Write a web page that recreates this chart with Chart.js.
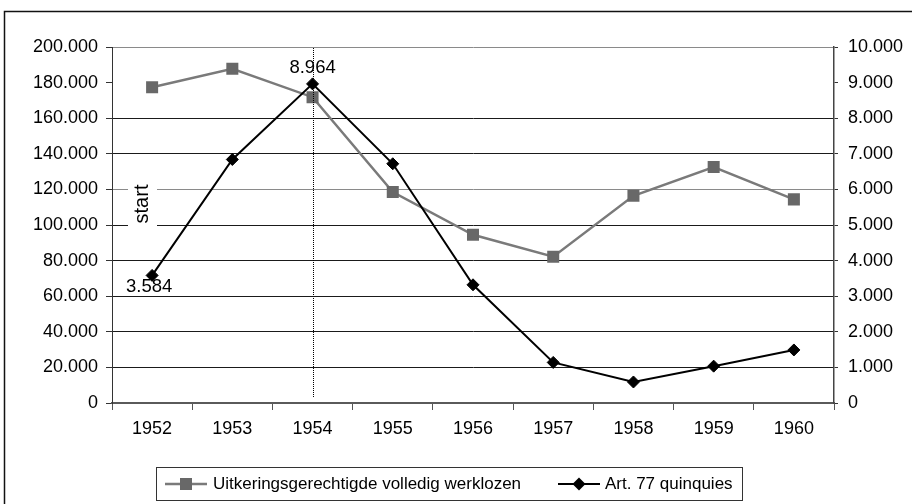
<!DOCTYPE html>
<html><head><meta charset="utf-8">
<script src="https://cdn.jsdelivr.net/npm/chart.js@4/dist/chart.umd.min.js"></script>
<style>html,body{margin:0;padding:0;background:#fff;overflow:hidden}</style>
</head><body>
<canvas id="c" width="912" height="504" style="width:912px;height:504px;display:block"></canvas>
<script>
// ---- data ----
const years = ['1952','1953','1954','1955','1956','1957','1958','1959','1960'];
const werklozen = [177400, 187800, 171800, 118500, 94500, 82200, 116400, 132600, 114400];
const quinquies = [3584, 6840, 8964, 6720, 3320, 1140, 590, 1035, 1490];
const seriesNames = ['Uitkeringsgerechtigde volledig werklozen', 'Art. 77 quinquies'];
const leftAxisMax = 200000, leftAxisStep = 20000;
const rightAxisMax = 10000, rightAxisStep = 1000;
const labeledPoints = [0, 2];      // indices of quinquies points with value labels
const markerYear = '1954';          // dotted vertical line
const noteText = 'start';

const FONT = "'Liberation Sans', Arial, sans-serif";
const fmt = v => Math.round(v).toString().replace(/\B(?=(\d{3})+(?!\d))/g, '.');

const GREY_LINE = '#7a7a7a', GREY_PT = '#686868', BLACK = '#000000';

const deco = {
  id: 'deco',
  beforeDraw(chart) {
    const ctx = chart.ctx;
    ctx.save();
    ctx.fillStyle = '#fff';
    ctx.fillRect(0, 0, chart.width, chart.height);
    ctx.strokeStyle = '#111';
    ctx.lineWidth = 1.5;
    ctx.strokeRect(4.5, 11.5, 940, 540);
    ctx.restore();
  },
  beforeDatasetsDraw(chart) {
    const ctx = chart.ctx;
    ctx.save();
    ctx.fillStyle = '#fff';
    ctx.fillRect(128, 176, 29, 58);
    ctx.translate(142, 204);
    ctx.rotate(-Math.PI / 2);
    ctx.fillStyle = '#000';
    ctx.font = '20px ' + FONT;
    ctx.textAlign = 'center';
    ctx.textBaseline = 'middle';
    ctx.fillText(noteText, 0, 0);
    ctx.restore();
  },
  afterDatasetsDraw(chart) {
    const ctx = chart.ctx;
    const xs = chart.scales.x;
    const area = chart.chartArea;
    const xm = Math.round(xs.getPixelForValue(years.indexOf(markerYear))) + 0.5;
    ctx.save();
    ctx.strokeStyle = '#000';
    ctx.lineWidth = 1;
    ctx.setLineDash([1, 1]);
    ctx.beginPath();
    ctx.moveTo(xm, area.top + 1);
    ctx.lineTo(xm, area.bottom - 5);
    ctx.stroke();
    ctx.setLineDash([]);
    const meta = chart.getDatasetMeta(1);
    ctx.fillStyle = '#000';
    ctx.font = '18.5px ' + FONT;
    ctx.textAlign = 'center';
    ctx.textBaseline = 'middle';
    labeledPoints.forEach(i => {
      const p = meta.data[i];
      if (i === 0) ctx.fillText(fmt(quinquies[i]), p.x - 3, p.y + 11);
      else ctx.fillText(fmt(quinquies[i]), p.x, p.y - 16);
    });
    ctx.restore();
  },
  afterDraw(chart) {
    const ctx = chart.ctx;
    ctx.save();
    ctx.strokeStyle = '#333';
    ctx.lineWidth = 1;
    ctx.strokeRect(156.5, 467.5, 586, 33);
    const ly = 484;
    ctx.font = '17px ' + FONT;
    ctx.textBaseline = 'middle';
    ctx.textAlign = 'left';
    const d0 = chart.data.datasets[0], d1 = chart.data.datasets[1];
    ctx.strokeStyle = d0.borderColor; ctx.lineWidth = d0.borderWidth;
    ctx.beginPath(); ctx.moveTo(165, ly); ctx.lineTo(207, ly); ctx.stroke();
    ctx.fillStyle = d0.pointBackgroundColor;
    ctx.fillRect(180, ly - 6, 12, 12);
    ctx.fillStyle = '#000';
    ctx.fillText(d0.label, 213, ly);
    ctx.strokeStyle = d1.borderColor; ctx.lineWidth = d1.borderWidth;
    ctx.beginPath(); ctx.moveTo(558, ly); ctx.lineTo(600, ly); ctx.stroke();
    ctx.fillStyle = d1.pointBackgroundColor;
    ctx.beginPath();
    ctx.moveTo(579, ly - 6.5); ctx.lineTo(585.5, ly); ctx.lineTo(579, ly + 6.5); ctx.lineTo(572.5, ly);
    ctx.closePath(); ctx.fill();
    ctx.fillStyle = '#000';
    ctx.fillText(d1.label, 605, ly);
    ctx.restore();
  }
};

new Chart(document.getElementById('c'), {
  type: 'line',
  data: {
    labels: years,
    datasets: [
      {
        label: seriesNames[0], data: werklozen, yAxisID: 'y', order: 2,
        borderColor: GREY_LINE, borderWidth: 2.5,
        pointStyle: 'rect', pointRadius: 8.5, pointBackgroundColor: GREY_PT,
        pointBorderColor: GREY_PT, pointBorderWidth: 0, tension: 0
      },
      {
        label: seriesNames[1], data: quinquies, yAxisID: 'y1', order: 1,
        borderColor: BLACK, borderWidth: 2,
        pointStyle: 'rectRot', pointRadius: 6, pointBackgroundColor: BLACK,
        pointBorderColor: BLACK, pointBorderWidth: 1, tension: 0
      }
    ]
  },
  options: {
    responsive: false,
    animation: false,
    devicePixelRatio: 1,
    layout: { padding: { top: 47, left: 0, right: 0, bottom: 0 } },
    plugins: { legend: { display: false }, tooltip: { enabled: false } },
    scales: {
      x: {
        offset: true,
        grid: { offset: true, drawOnChartArea: false, drawTicks: true, tickLength: 7, color: '#555', lineWidth: 1 },
        border: { display: true, color: '#5a5a5a', width: 2 },
        ticks: { color: '#000', font: { family: FONT, size: 18 }, padding: 8, maxRotation: 0 },
        afterFit: s => { s.height = 101; }
      },
      y: {
        position: 'left', min: 0, max: leftAxisMax,
        ticks: { stepSize: leftAxisStep, color: '#000', font: { family: FONT, size: 18 }, padding: 8, callback: v => fmt(v) },
        grid: {
          drawTicks: true, tickLength: 6, tickColor: '#333', lineWidth: 1,
          color: c => {
            const v = c.tick ? c.tick.value : null;
            if (v === 180000) return 'rgba(0,0,0,0)';
            if (v === 200000 || v === 120000) return '#8a8a8a';
            return '#1a1a1a';
          }
        },
        border: { display: true, color: '#333', width: 1 },
        afterFit: s => { s.width = 112; }
      },
      y1: {
        position: 'right', min: 0, max: rightAxisMax,
        ticks: { stepSize: rightAxisStep, color: '#000', font: { family: FONT, size: 18 }, padding: 10, callback: v => fmt(v) },
        grid: { drawOnChartArea: false, drawTicks: true, tickLength: 4, tickColor: '#333' },
        border: { display: true, color: '#444', width: 1.5 },
        afterFit: s => { s.width = 78; }
      }
    }
  },
  plugins: [deco]
});
</script>
</body></html>
